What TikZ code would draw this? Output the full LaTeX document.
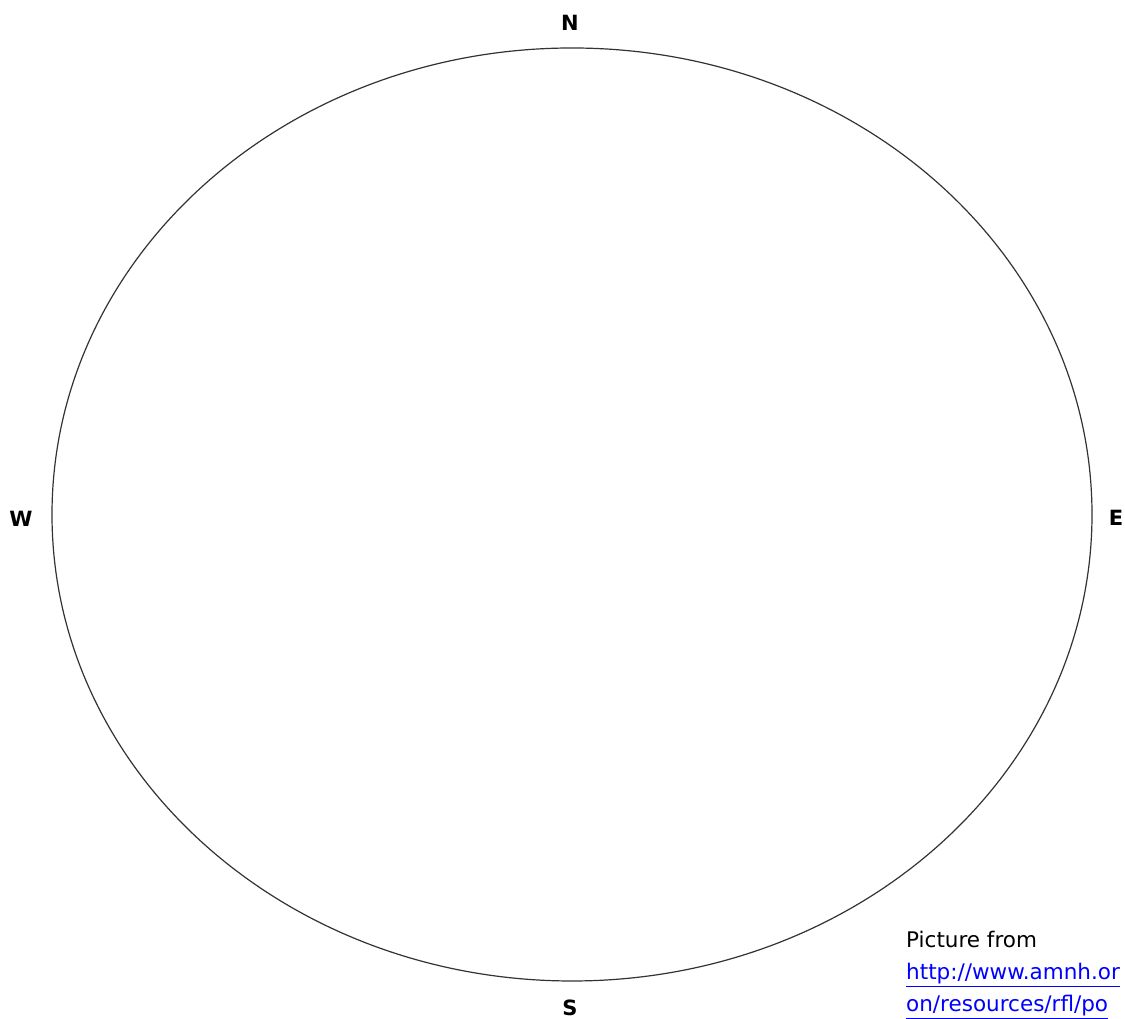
\documentclass[tikz,border=0pt]{standalone}
\usepackage{fontspec}
\setmainfont{DejaVu Sans}
\newfontfamily\dirfont{DejaVu Sans}
\usetikzlibrary{shapes.geometric}
\begin{document}
\begin{tikzpicture}[x=1pt,y=1pt,
  dirlabel/.style={font=\dirfont\bfseries\fontsize{21}{21}\selectfont, inner sep=0pt, anchor=center},
  note/.style={font=\fontsize{21.5}{21.5}\selectfont, inner sep=0pt, anchor=base west},
  link/.style={note, text=blue}]
\useasboundingbox (0,0) rectangle (1125,1019);
\clip (0,0) rectangle (1125,1019);
\fill[white] (0,0) rectangle (1125,1019);
\node[draw=black!80, line width=1.2pt, ellipse, minimum width=1040, minimum height=933, inner sep=0pt] (horizon) at (572,504.5) {};
\node[dirlabel] (n) at (570,996) {N};
\node[dirlabel] (w) at (21,500) {W};
\node[dirlabel] (e) at (1116,501) {E};
\node[dirlabel] (s) at (570,11) {S};
\node[note] (p1) at (906,71) {Picture from};
\node[link] (p2) at (906,39) {\underline{http://www.amnh.or}};
\node[link] (p3) at (906,7) {\underline{on/resources/rfl/po}};
\end{tikzpicture}
\end{document}
